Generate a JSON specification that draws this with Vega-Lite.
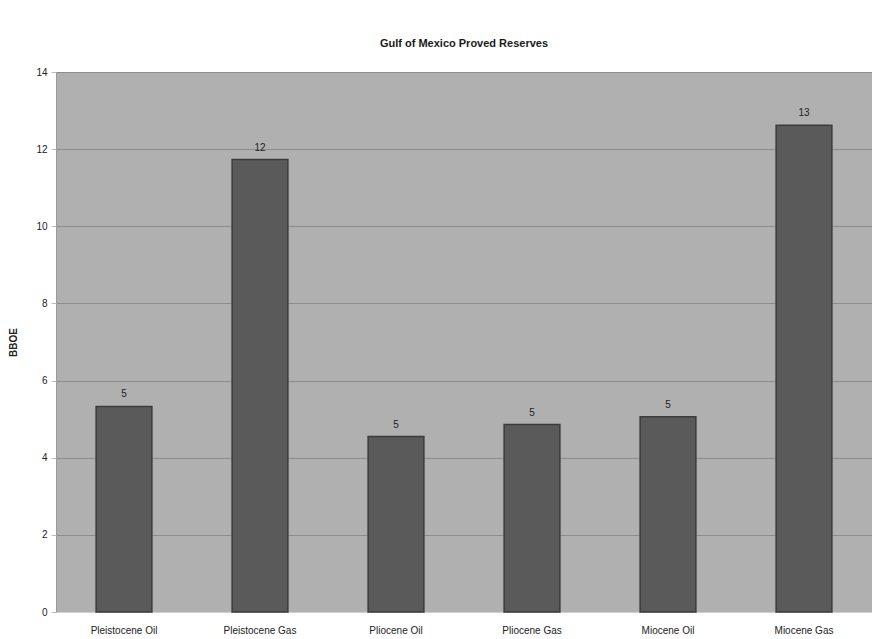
{
  "$schema": "https://vega.github.io/schema/vega-lite/v6.json",
  "autosize": {"type": "none"},
  "padding": {"left": 56, "top": 72, "right": 0, "bottom": 27},
  "width": 816,
  "height": 540,
  "background": "#ffffff",
  "title": {
    "text": "Gulf of Mexico Proved Reserves",
    "anchor": "middle",
    "frame": "group",
    "offset": 18,
    "font": "Liberation Sans",
    "fontSize": 11,
    "fontWeight": "bold",
    "color": "#1a1a1a"
  },
  "config": {
    "view": {"fill": "#b0b0b0", "stroke": "#9a9a9a", "strokeWidth": 1},
    "font": "Liberation Sans"
  },
  "data": {
    "values": [
      {"category": "Pleistocene Oil", "bboe": 5.33},
      {"category": "Pleistocene Gas", "bboe": 11.73},
      {"category": "Pliocene Oil", "bboe": 4.55},
      {"category": "Pliocene Gas", "bboe": 4.86},
      {"category": "Miocene Oil", "bboe": 5.06},
      {"category": "Miocene Gas", "bboe": 12.62}
    ]
  },
  "encoding": {
    "x": {
      "field": "category",
      "type": "nominal",
      "sort": null,
      "scale": {"paddingInner": 0.59, "paddingOuter": 0.295},
      "axis": {
        "title": null,
        "labelAngle": 0,
        "labelFontSize": 10,
        "labelColor": "#222222",
        "labelPadding": 13,
        "ticks": false,
        "domain": true,
        "domainColor": "#d0d0d0",
        "grid": false
      }
    },
    "y": {
      "field": "bboe",
      "type": "quantitative",
      "scale": {"domain": [0, 14], "nice": false},
      "axis": {
        "title": "BBOE",
        "titleFontSize": 10,
        "titleFontWeight": "bold",
        "titleColor": "#222222",
        "titlePadding": 17,
        "values": [0, 2, 4, 6, 8, 10, 12, 14],
        "labelFontSize": 10,
        "labelColor": "#222222",
        "labelPadding": 4,
        "tickSize": 5,
        "tickColor": "#bbbbbb",
        "domain": false,
        "grid": true,
        "gridColor": "#8c8c8c",
        "gridWidth": 1,
        "gridOpacity": 1
      }
    }
  },
  "layer": [
    {
      "mark": {"type": "bar", "color": "#5a5a5a", "stroke": "#3c3c3c", "strokeWidth": 1.5}
    },
    {
      "mark": {"type": "text", "dy": -12, "fontSize": 10, "color": "#222222"},
      "encoding": {
        "text": {"field": "bboe", "type": "quantitative", "format": ".0f"}
      }
    }
  ]
}
